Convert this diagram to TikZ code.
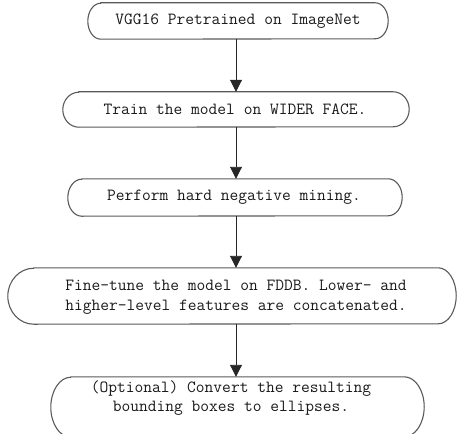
\documentclass[tikz,border=0pt]{standalone}
\usetikzlibrary{arrows.meta}
\tikzset{
  x=1pt, y=1pt,
  lbl/.style={font=\ttfamily\fontsize{17}{19.5}\selectfont, text=black!90, align=center, inner sep=0pt},
  boxarea/.style={draw=none, inner sep=0pt},
  boxline/.style={draw=black!65, line width=1.1pt},
  flow/.style={draw=black!85, line width=0.9pt, -{Triangle[length=12pt,width=12pt]}},
}
% #1 node, #2 left x radius, #3 right x radius, #4 y radius (half height)
\newcommand\stadoutline[4]{%
  \draw[boxline] ([xshift=#2]#1.north west) -- ([xshift=-#3]#1.north east)
    arc[start angle=90, end angle=-90, x radius=#3, y radius=#4]
    -- ([xshift=#2]#1.south west)
    arc[start angle=270, end angle=90, x radius=#2, y radius=#4] -- cycle;}
\begin{document}
\begin{tikzpicture}
\useasboundingbox (0,0) rectangle (457,-433);
\clip (0,0) rectangle (457,-433);
\coordinate (axis) at (236,0);

\node[boxarea, minimum width=300, minimum height=36] (b1) at (238,-21) {};
\node[boxarea, minimum width=346, minimum height=35] (b2) at (236,-109.5) {};
\node[boxarea, minimum width=334, minimum height=37] (b3) at (235,-197.5) {};
\node[boxarea, minimum width=448, minimum height=56] (b4) at (232,-296) {};
\node[boxarea, minimum width=373, minimum height=60] (b5) at (237.5,-407) {};

\stadoutline{b1}{13}{13}{18}
\stadoutline{b2}{16}{16}{17.5}
\stadoutline{b3}{14}{14}{18.5}
\stadoutline{b4}{26}{18}{28}
\stadoutline{b5}{20}{20}{30}

\node[lbl] (t1) at (238,-21) {VGG16 Pretrained on ImageNet};
\node[lbl] (t2) at (235,-109.5) {Train the model on WIDER FACE.};
\node[lbl] (t3) at (234,-197.5) {Perform hard negative mining.};
\node[lbl] (t4) at (236,-297) {Fine-tune the model on FDDB. Lower- and\\higher-level features are concatenated.};
\node[lbl] (t5) at (231,-398) {(Optional) Convert the resulting\\bounding boxes to ellipses.};

\draw[flow] (b1.south -| axis) -- (b2.north -| axis);
\draw[flow] (b2.south -| axis) -- (b3.north -| axis);
\draw[flow] (b3.south -| axis) -- (b4.north -| axis);
\draw[flow] (b4.south -| axis) -- (b5.north -| axis);
\end{tikzpicture}
\end{document}
